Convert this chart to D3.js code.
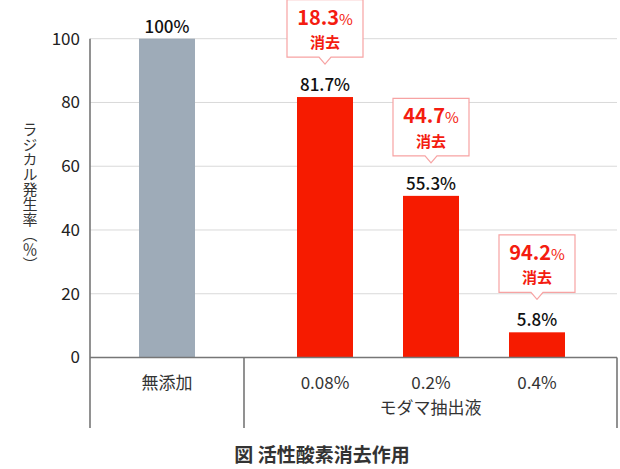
<!DOCTYPE html>
<html><head><meta charset="utf-8">
<script src="https://cdn.jsdelivr.net/npm/d3@7/dist/d3.min.js"></script>
<style>
html,body{margin:0;padding:0;background:#fff;}
text{font-family:"Noto Sans CJK JP","Noto Sans",sans-serif;}
</style></head>
<body><svg id="chart" width="620" height="469"></svg>
<script>
// ---- data ----
const categories = ["無添加", "0.08%", "0.2%", "0.4%"];
const groupOf = ["", "モダマ抽出液", "モダマ抽出液", "モダマ抽出液"];
const barValues = [100, 81.7, 50.7, 7.9];          // bar heights as drawn in the picture
const valueLabels = ["100%", "81.7%", "55.3%", "5.8%"];
const scavenged = [null, 18.3, 44.7, 94.2];
const yTicks = [0, 20, 40, 60, 80, 100];
const yTitle = "ラジカル発生率（％）";
const chartTitle = "図 活性酸素消去作用";

// ---- layout ----
const svg = d3.select("#chart");
const left = 90, right = 617, y0 = 357.5, yTop = 38.7, bottom = 428;
const dividerX = 244, groupGap = 52;
const y = d3.scaleLinear().domain([0, 100]).range([y0, yTop]);
const xb = d3.scaleBand().domain(categories).range([114, 538])
  .paddingInner(50/106).paddingOuter(25/106);
const bx = (c, i) => xb(c) + (groupOf[i] ? groupGap : 0);
const bw = xb.bandwidth();

// gridlines
svg.append("g").selectAll("line").data(yTicks.filter(t => t > 0)).join("line")
  .attr("x1", left).attr("x2", right)
  .attr("y1", d => y(d)).attr("y2", d => y(d))
  .attr("stroke", "#d9d9d9").attr("stroke-width", 1);

// y axis
const yAxis = d3.axisLeft(y).tickValues(yTicks).tickSize(0).tickPadding(10);
const gy = svg.append("g").attr("transform", `translate(${left},0)`).call(yAxis);
gy.select(".domain").remove();
gy.selectAll("text").attr("font-size", 17).attr("fill", "#222")
  .attr("font-family", '"Noto Sans CJK JP",sans-serif');

// bars
svg.append("g").selectAll("rect").data(categories).join("rect")
  .attr("x", (c, i) => bx(c, i)).attr("width", bw)
  .attr("y", (c, i) => y(barValues[i]))
  .attr("height", (c, i) => y0 - y(barValues[i]))
  .attr("fill", (c, i) => groupOf[i] ? "#f61b00" : "#9eabb8");

// axis frame lines
const frame = svg.append("g").attr("stroke", "#767676").attr("stroke-width", 1.6);
frame.append("line").attr("x1", left).attr("x2", left).attr("y1", yTop).attr("y2", bottom);
frame.append("line").attr("x1", left).attr("x2", right).attr("y1", y0).attr("y2", y0);
frame.append("line").attr("x1", dividerX).attr("x2", dividerX).attr("y1", y0).attr("y2", bottom);
frame.append("line").attr("x1", right).attr("x2", right).attr("y1", y0).attr("y2", bottom);

// category labels
svg.append("g").selectAll("text").data(categories).join("text")
  .attr("x", (c, i) => bx(c, i) + bw / 2).attr("y", 389)
  .attr("text-anchor", "middle").attr("font-size", 17).attr("fill", "#333")
  .text(c => c);
svg.append("text").attr("x", (dividerX + right) / 2).attr("y", 414)
  .attr("text-anchor", "middle").attr("font-size", 17).attr("fill", "#333")
  .text(groupOf[1]);

// value labels
svg.append("g").selectAll("text").data(categories).join("text")
  .attr("x", (c, i) => bx(c, i) + bw / 2).attr("y", (c, i) => y(barValues[i]) - 6)
  .attr("text-anchor", "middle").attr("font-size", 17).attr("font-weight", 500)
  .attr("fill", "#111").text((c, i) => valueLabels[i]);

// callouts
const boxW = 76, boxH = 58;
const callouts = svg.append("g").selectAll("g")
  .data(categories.map((c, i) => ({c, i})).filter(d => scavenged[d.i] != null))
  .join("g")
  .attr("transform", d => `translate(${bx(d.c, d.i) + bw / 2},${y(barValues[d.i]) - 98})`);
callouts.append("path")
  .attr("d", `M${-boxW/2},0.5 H${boxW/2} V${boxH} H6 L0,${boxH+7} L-6,${boxH} H${-boxW/2} Z`)
  .attr("fill", "#fff").attr("stroke", "#f7a3a3").attr("stroke-width", 1.2);
const t1 = callouts.append("text").attr("y", 25.5).attr("text-anchor", "middle")
  .attr("fill", "#f41c10").attr("font-weight", "bold");
t1.append("tspan").attr("x", 0).attr("font-size", 20).text(d => scavenged[d.i].toFixed(1));
t1.append("tspan").attr("font-size", 15).attr("font-weight", "normal").text("%");
callouts.append("text").attr("y", 49).attr("text-anchor", "middle")
  .attr("fill", "#f41c10").attr("font-weight", "bold").attr("font-size", 15)
  .text("消去");

// y title (vertical)
svg.append("text")
  .attr("x", 30).attr("y", 197)
  .attr("text-anchor", "middle")
  .attr("font-size", 15).attr("fill", "#333")
  .style("writing-mode", "vertical-rl")
  .text(yTitle);

// title
svg.append("text").attr("x", 322).attr("y", 462).attr("text-anchor", "middle")
  .attr("font-size", 19).attr("font-weight", "bold").attr("fill", "#333")
  .text(chartTitle);
</script></body></html>
